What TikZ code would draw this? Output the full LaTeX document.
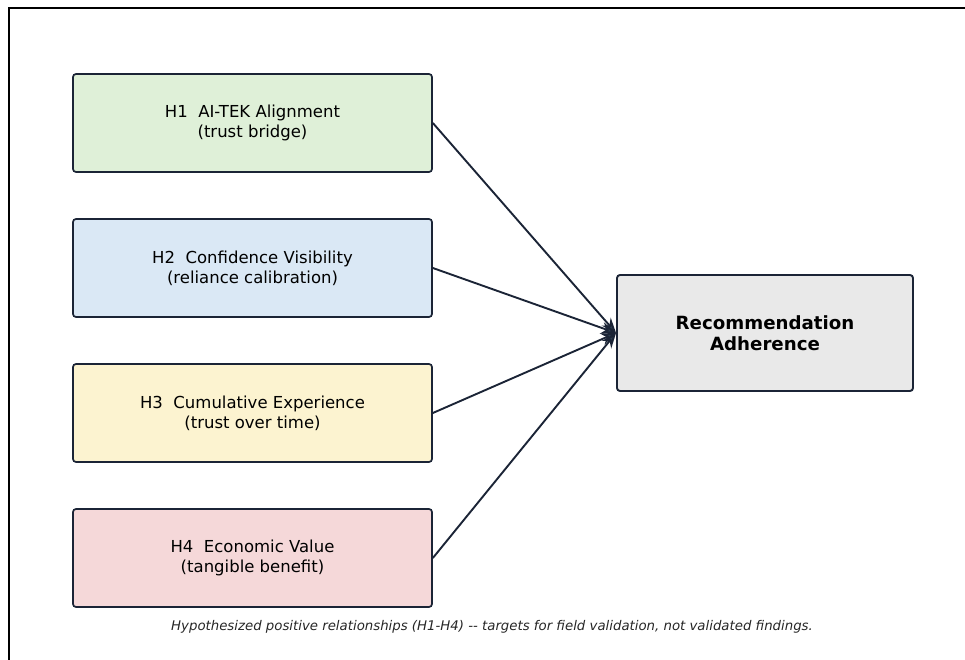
\documentclass[tikz,border=0pt]{standalone}
\usepackage{fontspec}
\setmainfont{DejaVu Sans}
\usetikzlibrary{arrows.meta}
\definecolor{edgec}{HTML}{1B2436}
\definecolor{headc}{HTML}{2C3E50}
\definecolor{fgreen}{HTML}{DFF0D8}
\definecolor{fblue}{HTML}{DAE8F5}
\definecolor{fyellow}{HTML}{FCF3D0}
\definecolor{fred}{HTML}{F5D8D9}
\definecolor{fgrey}{HTML}{E9E9E9}
\tikzset{
  hbox/.style={draw=edgec, line width=1.7pt, rounded corners=3pt, minimum width=359pt, minimum height=98pt, align=center, inner sep=0pt, font=\fontsize{16.5}{20}\selectfont},
  tbox/.style={draw=edgec, line width=1.9pt, rounded corners=3pt, fill=fgrey, minimum width=296pt, minimum height=116pt, align=center, inner sep=0pt, font=\fontsize{18.2}{21}\selectfont\bfseries},
  link/.style={draw=edgec, line width=1.9pt, -{Stealth[length=15pt, width=12pt, fill=headc]}}
}
\begin{document}
\begin{tikzpicture}[x=1pt, y=-1pt]
\useasboundingbox (0,0) rectangle (965,660);
\draw[line width=1.7pt] (9,665) -- (9,8) -- (970,8);
\node[hbox, fill=fgreen] (h1) at (252.5,123) {H1\ \ AI-TEK Alignment\\(trust bridge)};
\node[hbox, fill=fblue] (h2) at (252.5,268) {H2\ \ Confidence Visibility\\(reliance calibration)};
\node[hbox, fill=fyellow] (h3) at (252.5,413) {H3\ \ Cumulative Experience\\(trust over time)};
\node[hbox, fill=fred] (h4) at (252.5,558) {H4\ \ Economic Value\\(tangible benefit)};
\node[tbox] (t) at (765,333) {Recommendation\\Adherence};
\draw[link] (h1.east) -- (t.west);
\draw[link] (h2.east) -- (t.west);
\draw[link] (h3.east) -- (t.west);
\draw[link] (h4.east) -- (t.west);
\node[font=\fontsize{13.3}{16}\selectfont\itshape, text=black!85] (cap) at (492,627) {Hypothesized positive relationships (H1-H4) -{}- targets for field validation, not validated findings.};
\end{tikzpicture}
\end{document}
